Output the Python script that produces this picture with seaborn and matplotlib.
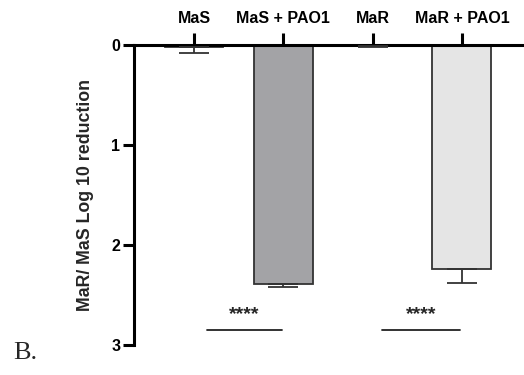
import matplotlib
matplotlib.use("Agg")
import matplotlib.pyplot as plt
import seaborn as sns
import pandas as pd

# Log10 reduction per condition, with one-sided SD error bars
categories = ["MaS", "MaS + PAO1", "MaR", "MaR + PAO1"]
reduction = [0.02, 2.39, 0.01, 2.24]
reduction_err = [0.055, 0.025, 0.005, 0.135]
bar_colors = ["#ffffff", "#a3a2a7", "#ffffff", "#e5e5e5"]

# Significance brackets: (start, end) in category units, and their labels
sig_spans = [(0.15, 0.98), (2.11, 2.98)]
sig_labels = ["****", "****"]
y_ticks = [0, 1, 2, 3]

sns.set_theme(style="white")
plt.rcParams["font.family"] = ["Liberation Sans", "DejaVu Sans"]

df = pd.DataFrame({"condition": categories, "reduction": reduction})

fig = plt.figure(figsize=(5.24, 3.75), dpi=100)
ax = fig.add_axes([134 / 524, 30 / 375, 390 / 524, 300 / 375])

sns.barplot(
    data=df, x="condition", y="reduction", hue="condition",
    palette=bar_colors, order=categories, hue_order=categories,
    width=0.66, edgecolor="#333333", linewidth=1.3,
    legend=False, errorbar=None, ax=ax,
)

xpos = list(range(len(categories)))
ax.errorbar(
    xpos, reduction, yerr=[[0] * len(reduction), reduction_err],
    fmt="none", ecolor="#333333", elinewidth=1.3, capsize=11, capthick=1.3,
    zorder=3,
)

ax.set_ylim(3, 0)
ax.set_xlim(-0.672, 3.695)
ax.set_yticks(y_ticks)
ax.set_yticklabels([str(t) for t in y_ticks], fontweight="bold", fontsize=11.5)

ax.xaxis.tick_top()
ax.set_xticks(xpos)
ax.set_xticklabels(categories, fontweight="bold", fontsize=11.5)
ax.set_xlabel("")
ax.set_ylabel("MaR/ MaS Log 10 reduction", fontweight="bold", fontsize=12.8,
              labelpad=12)

for side in ["bottom", "right"]:
    ax.spines[side].set_visible(False)
for side in ["top", "left"]:
    ax.spines[side].set_visible(True)
    ax.spines[side].set_linewidth(2.2)
    ax.spines[side].set_color("black")

ax.tick_params(axis="y", which="major", left=True, length=8, width=2.2,
               pad=2, colors="black", direction="out")
ax.tick_params(axis="x", which="major", top=True, bottom=False, length=9,
               width=2.2, pad=5, colors="black", direction="out")

# Significance lines with star labels
for (x0, x1), lab in zip(sig_spans, sig_labels):
    ax.plot([x0, x1], [2.85, 2.85], color="#222222", lw=1.3, clip_on=False)
    ax.text((x0 + x1) / 2, 2.70, lab, ha="center", va="center",
            fontsize=14, fontweight="bold")

fig.text(13 / 524, 1 - 353 / 375, "B.", fontsize=19,
         family=["Liberation Serif", "DejaVu Serif"], ha="left", va="center")

fig.savefig("out.png", dpi=100)
